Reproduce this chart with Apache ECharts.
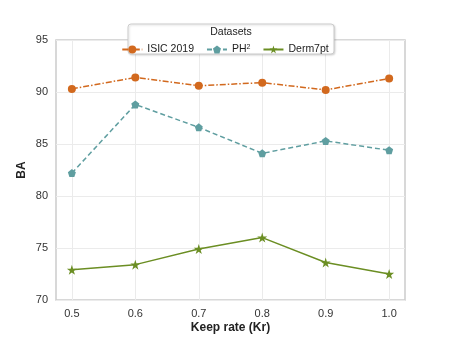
<!DOCTYPE html>
<html>
<head>
<meta charset="utf-8">
<script src="https://cdn.jsdelivr.net/npm/echarts@6/dist/echarts.min.js"></script>
<style>
html, body { margin: 0; padding: 0; background: #fff; }
#main { width: 450px; height: 337px; }
</style>
</head>
<body>
<div id="main"></div>
<script>
const keepRates = [0.5, 0.6, 0.7, 0.8, 0.9, 1.0]
const isic2019 = [90.3, 91.4, 90.6, 90.9, 90.2, 91.3]
const ph2 = [82.2, 88.8, 86.6, 84.1, 85.3, 84.4]
const derm7pt = [72.9, 73.4, 74.9, 76.0, 73.6, 72.5]

const pairs = (ys) => keepRates.map((x, i) => [x, ys[i]])
const font = 'Liberation Sans, Arial, sans-serif'

const chart = echarts.init(document.getElementById('main'))
chart.setOption({
  animation: false,
  textStyle: { fontFamily: font },
  grid: {
    left: 56, right: 45, top: 40, bottom: 37,
    outerBoundsMode: 'none', containLabel: false,
    show: true, borderColor: '#cccccc', borderWidth: 1.5
  },
  graphic: [
    {
      type: 'rect',
      shape: { x: 128, y: 24, width: 206, height: 30, r: 3 },
      style: { fill: '#fff', stroke: '#cccccc', lineWidth: 1, shadowBlur: 2, shadowColor: 'rgba(0,0,0,0.15)', shadowOffsetX: 1, shadowOffsetY: 1 },
      z: 100
    },
    {
      type: 'text',
      x: 231, y: 27,
      style: { text: 'Datasets', fontSize: 10.5, fill: '#222', textAlign: 'center', fontFamily: font },
      z: 101
    }
  ],
  legend: {
    top: 39,
    left: 'center',
    itemGap: 12,
    itemWidth: 20,
    itemHeight: 10,
    z: 102,
    textStyle: {
      fontSize: 10.5, color: '#222', fontFamily: font,
      rich: { sup: { fontSize: 7, verticalAlign: 'top', lineHeight: 6, padding: [0, 0, 6, 0], color: '#222' } }
    },
    formatter: (name) => name === 'PH2' ? 'PH{sup|2}' : name,
    data: ['ISIC 2019', 'PH2', 'Derm7pt']
  },
  xAxis: {
    type: 'value',
    min: 0.475,
    max: 1.025,
    name: 'Keep rate (Kr)',
    nameLocation: 'middle',
    nameGap: 22,
    nameMoveOverlap: false,
    nameTextStyle: { fontWeight: 'bold', fontSize: 12, color: '#222' },
    axisLine: { show: false },
    axisTick: { show: false, customValues: keepRates },
    axisLabel: { customValues: keepRates, color: '#333', fontSize: 11, margin: 8, formatter: (v) => v.toFixed(1) },
    splitLine: { show: true, lineStyle: { color: '#ebebeb', width: 1 } }
  },
  yAxis: {
    type: 'value',
    min: 70,
    max: 95,
    interval: 5,
    name: 'BA',
    nameLocation: 'middle',
    nameGap: 28,
    nameMoveOverlap: false,
    nameTextStyle: { fontWeight: 'bold', fontSize: 12, color: '#222' },
    axisLine: { show: false },
    axisTick: { show: false },
    axisLabel: { color: '#333', fontSize: 11, margin: 8 },
    splitLine: { show: true, lineStyle: { color: '#ebebeb', width: 1 } }
  },
  series: [
    {
      name: 'ISIC 2019',
      type: 'line',
      data: pairs(isic2019),
      symbol: 'circle',
      symbolSize: 8,
      color: '#d2691e',
      lineStyle: { width: 1.5, type: [6, 2, 1.5, 2] }
    },
    {
      name: 'PH2',
      type: 'line',
      data: pairs(ph2),
      symbol: 'path://M0,-1 L0.951,-0.309 L0.588,0.809 L-0.588,0.809 L-0.951,-0.309 Z',
      symbolSize: 8,
      color: '#5f9ea0',
      lineStyle: { width: 1.5, type: [5, 3] }
    },
    {
      name: 'Derm7pt',
      type: 'line',
      data: pairs(derm7pt),
      symbol: 'path://M0,-1 L0.225,-0.309 L0.951,-0.309 L0.363,0.118 L0.588,0.809 L0,0.382 L-0.588,0.809 L-0.363,0.118 L-0.951,-0.309 L-0.225,-0.309 Z',
      symbolSize: 10,
      color: '#6b8e23',
      lineStyle: { width: 1.5, type: 'solid' }
    }
  ]
})
</script>
</body>
</html>
